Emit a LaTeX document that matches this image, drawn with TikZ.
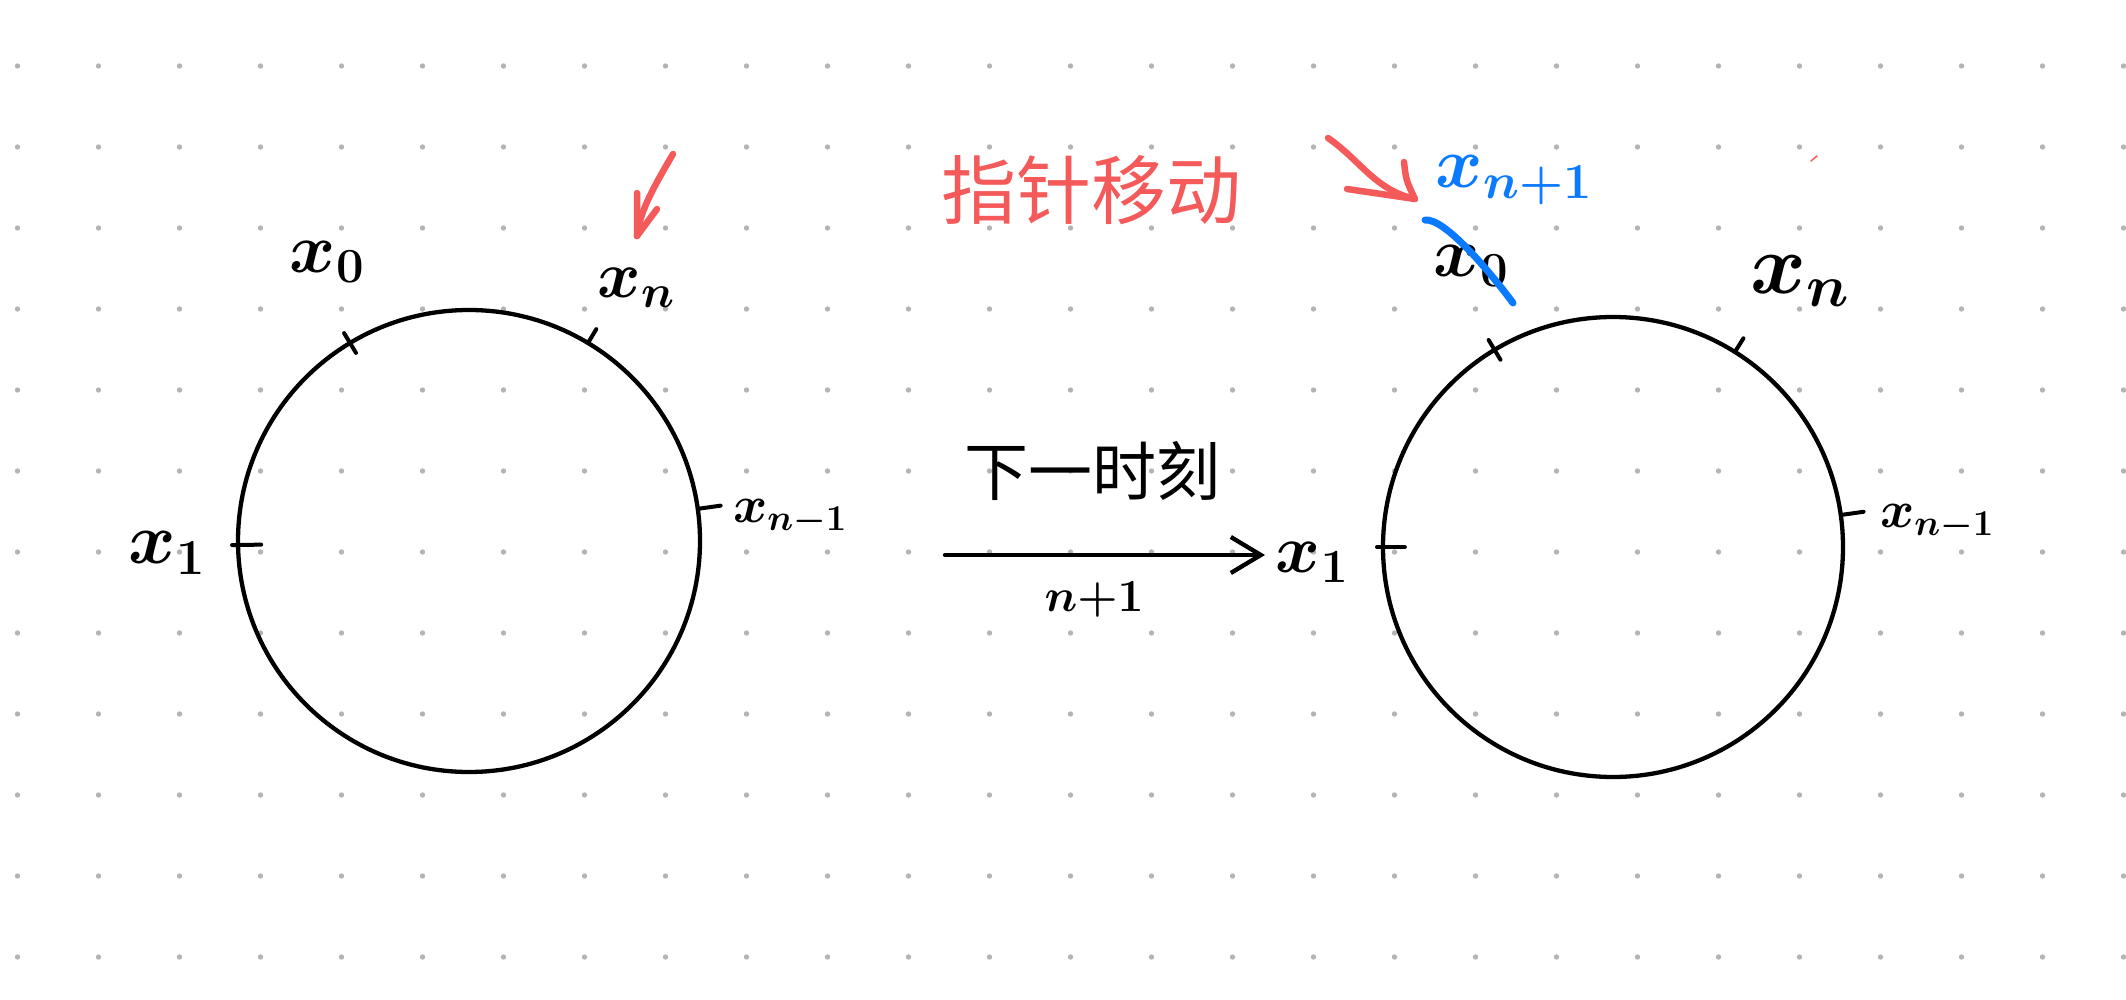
\RequirePackage{fix-cm}
\documentclass[tikz,border=0pt]{standalone}
\usepackage{fontspec}
\newfontfamily\cjk{Noto Sans CJK SC}
\usetikzlibrary{calc,arrows.meta}
\definecolor{penred}{HTML}{F55A5A}
\definecolor{penblue}{HTML}{0A7AFF}
\definecolor{dotgrey}{HTML}{B4B4B4}
\newcommand\fsz[1]{\fontsize{#1}{#1}\selectfont\boldmath}
\begin{document}
\begin{tikzpicture}[x=1pt,y=-1pt,
  ring/.style={circle,draw,line width=4.3pt,inner sep=0pt,outer sep=0pt},
  tickmark/.style={line width=4pt,line cap=round},
  lbl/.style={inner sep=0pt,text=black},
  redpen/.style={draw=penred,line width=6.5pt,line cap=round,line join=round},
  bluepen/.style={draw=penblue,line width=7pt,line cap=round},
]
\fill[white] (0,0) rectangle (2126,1000);
\useasboundingbox (0,0) rectangle (2126,1000);
% dot grid
\foreach \i in {0,...,26}{
  \foreach \j in {0,...,11}{
    \fill[dotgrey] (17.5+81*\i, 66+81*\j) circle[radius=2.7pt];
  }
}
% circles
\node[ring,minimum size=462pt] (L) at (469,541) {};
\node[ring,minimum size=460pt] (R) at (1613,547) {};
% ticks left
\draw[tickmark] ($(L.center)!0.95!(L.121)$) -- ($(L.center)!1.05!(L.121)$);
\draw[tickmark] ($(L.center)!1.0!(L.59)$) -- ($(L.center)!1.07!(L.59)$);
\draw[tickmark] ($(L.center)!1.0!(L.8.5)$) -- ($(L.center)!1.1!(L.8.5)$);
\draw[tickmark] ($(L.center)!0.9!(L.181)$) -- ($(L.center)!1.026!(L.181)$);
% ticks right
\draw[tickmark] ($(R.center)!0.95!(R.121)$) -- ($(R.center)!1.05!(R.121)$);
\draw[tickmark] ($(R.center)!1.0!(R.58.5)$) -- ($(R.center)!1.07!(R.58.5)$);
\draw[tickmark] ($(R.center)!1.0!(R.8.7)$) -- ($(R.center)!1.1!(R.8.7)$);
\draw[tickmark] ($(R.center)!0.905!(R.180.5)$) -- ($(R.center)!1.026!(R.180.5)$);
% labels left
\node[lbl,font=\fsz{70}] (Lx0) at (327,262) {$x_0$};
\node[lbl,font=\fsz{66}] (Lxn) at (636,288) {$x_n$};
\node[lbl,font=\fsz{52}] (Lxm) at (790,517) {$x_{n-1}$};
\node[lbl,font=\fsz{72}] (Lx1) at (167,553) {$x_1$};
% labels right
\node[lbl,font=\fsz{70}] (Rx0) at (1471,266) {$x_0$};
\node[lbl,font=\fsz{85}] (Rxn) at (1800,281) {$x_n$};
\node[lbl,font=\fsz{52}] (Rxm) at (1937,522) {$x_{n-1}$};
\node[lbl,font=\fsz{68}] (Rx1) at (1312,562) {$x_1$};
\node[lbl,font=\fsz{72},text=penblue] (Rxp) at (1514,180) {$x_{n+1}$};
% main arrow
\coordinate (a0) at (945,555);
\coordinate (a1) at (1265,555);
\draw[line width=4.3pt,line cap=round,-{Straight Barb[length=30pt,width=36pt]}] (a0) -- (a1);
\node[lbl,font=\cjk\fsz{64}] (next) at (1092,471) {下一时刻};
\node[lbl,font=\fsz{46}] (np1) at (1094,600) {$n{+}1$};
% red text
\node[lbl,font=\cjk\fsz{75},text=penred] (ptr) at (1091,190) {指针移动};
% red arrow left
\coordinate (r1s) at (673,154);
\coordinate (r1t) at (637,236);
\coordinate (r1b1) at (637,193);
\coordinate (r1b2) at (657,209);
\draw[redpen] (r1s) .. controls (655,185) and (640,210) .. (r1t);
\draw[redpen] (r1b1) -- (r1t) -- (r1b2);
% red arrow right
\coordinate (r2s) at (1328,138);
\coordinate (r2t) at (1415,199);
\coordinate (r2b1) at (1404,162);
\coordinate (r2b2) at (1347,189);
\draw[redpen] (r2s) .. controls (1360,160) and (1375,190) .. (r2t);
\draw[redpen] (r2b1) .. controls (1406,180) .. (r2t) -- (r2b2);
\draw[draw=penred,line width=1.5pt,line cap=round] (1811,161) -- (1817,156);
% blue strike
\coordinate (b1) at (1425,220);
\coordinate (b2) at (1513,303);
\draw[bluepen] (b1) .. controls (1445,218) and (1490,272) .. (b2);
\end{tikzpicture}
\end{document}
